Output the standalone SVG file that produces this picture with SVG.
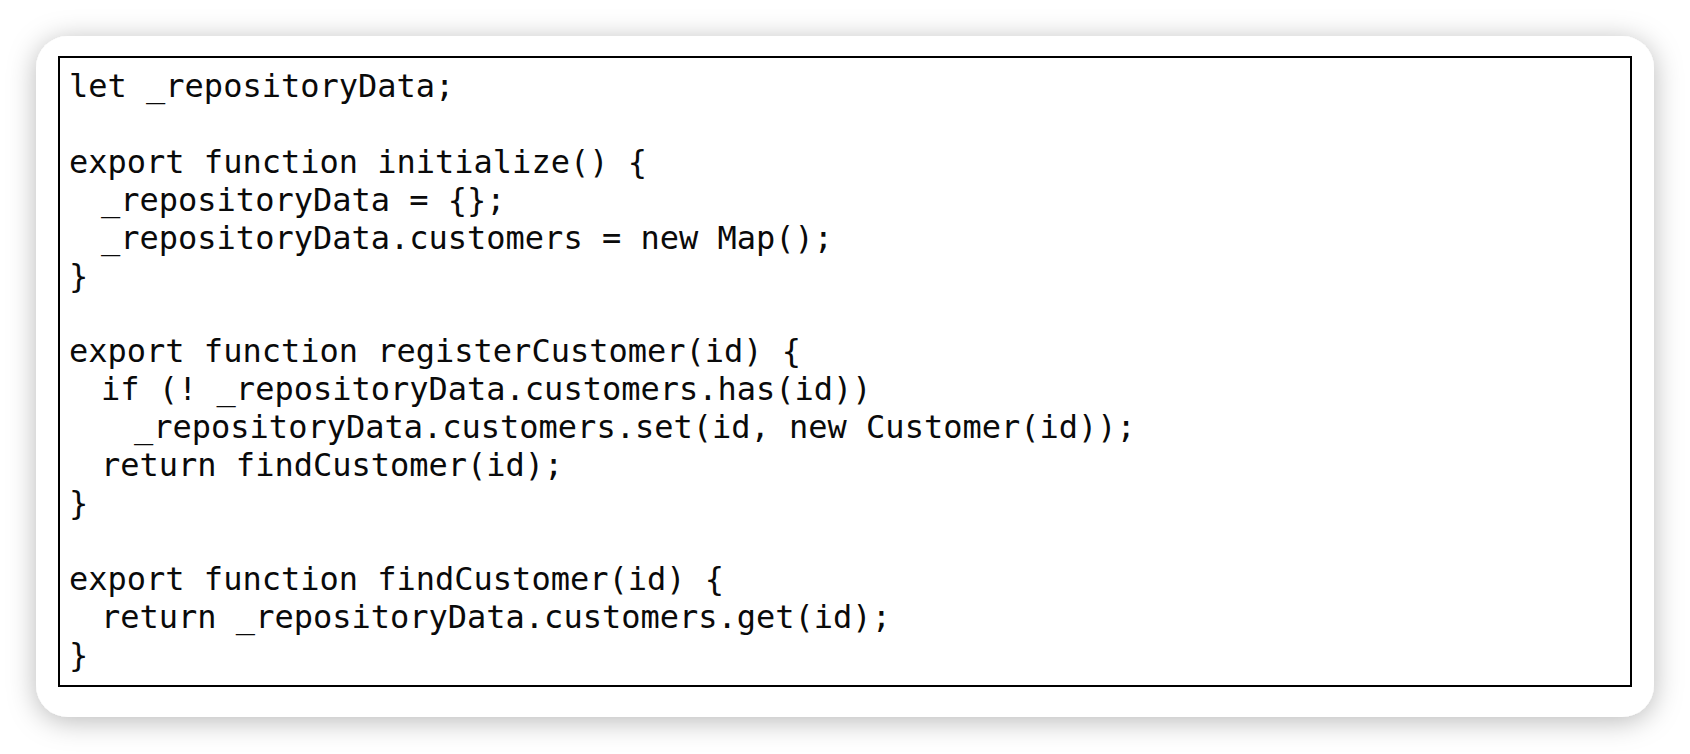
<svg xmlns="http://www.w3.org/2000/svg" width="1690" height="754" viewBox="0 0 1690 754">
  <defs>
    <filter id="shadow" x="-10%" y="-20%" width="120%" height="140%">
      <feDropShadow dx="0" dy="4" stdDeviation="14" flood-color="#000" flood-opacity="0.28"/>
    </filter>
  </defs>
  <style>
    .code { font-family: "DejaVu Sans Mono", "Liberation Mono", monospace; font-size: 32px; fill: #0a0a0a; white-space: pre; }
  </style>
  <rect x="0" y="0" width="1690" height="754" fill="#ffffff"/>
  <g id="card">
    <rect x="36" y="36" width="1618" height="681" rx="32" ry="32" fill="#ffffff" filter="url(#shadow)"/>
  </g>
  <g id="code-box">
    <rect x="59" y="57" width="1572" height="629" fill="#ffffff" stroke="#000" stroke-width="2"/>
  </g>
  <g id="code">
    <text class="code" x="69" y="97">let _repositoryData;</text>
    <text class="code" x="69" y="172.8">export function initialize() {</text>
    <text class="code" x="101" y="210.7">_repositoryData = {};</text>
    <text class="code" x="101" y="248.6">_repositoryData.customers = new Map();</text>
    <text class="code" x="69" y="286.5">}</text>
    <text class="code" x="69" y="362.3">export function registerCustomer(id) {</text>
    <text class="code" x="101" y="400.2">if (! _repositoryData.customers.has(id))</text>
    <text class="code" x="134" y="438.1">_repositoryData.customers.set(id, new Customer(id));</text>
    <text class="code" x="101" y="476">return findCustomer(id);</text>
    <text class="code" x="69" y="513.9">}</text>
    <text class="code" x="69" y="589.7">export function findCustomer(id) {</text>
    <text class="code" x="101" y="627.6">return _repositoryData.customers.get(id);</text>
    <text class="code" x="69" y="665.5">}</text>
  </g>
</svg>
